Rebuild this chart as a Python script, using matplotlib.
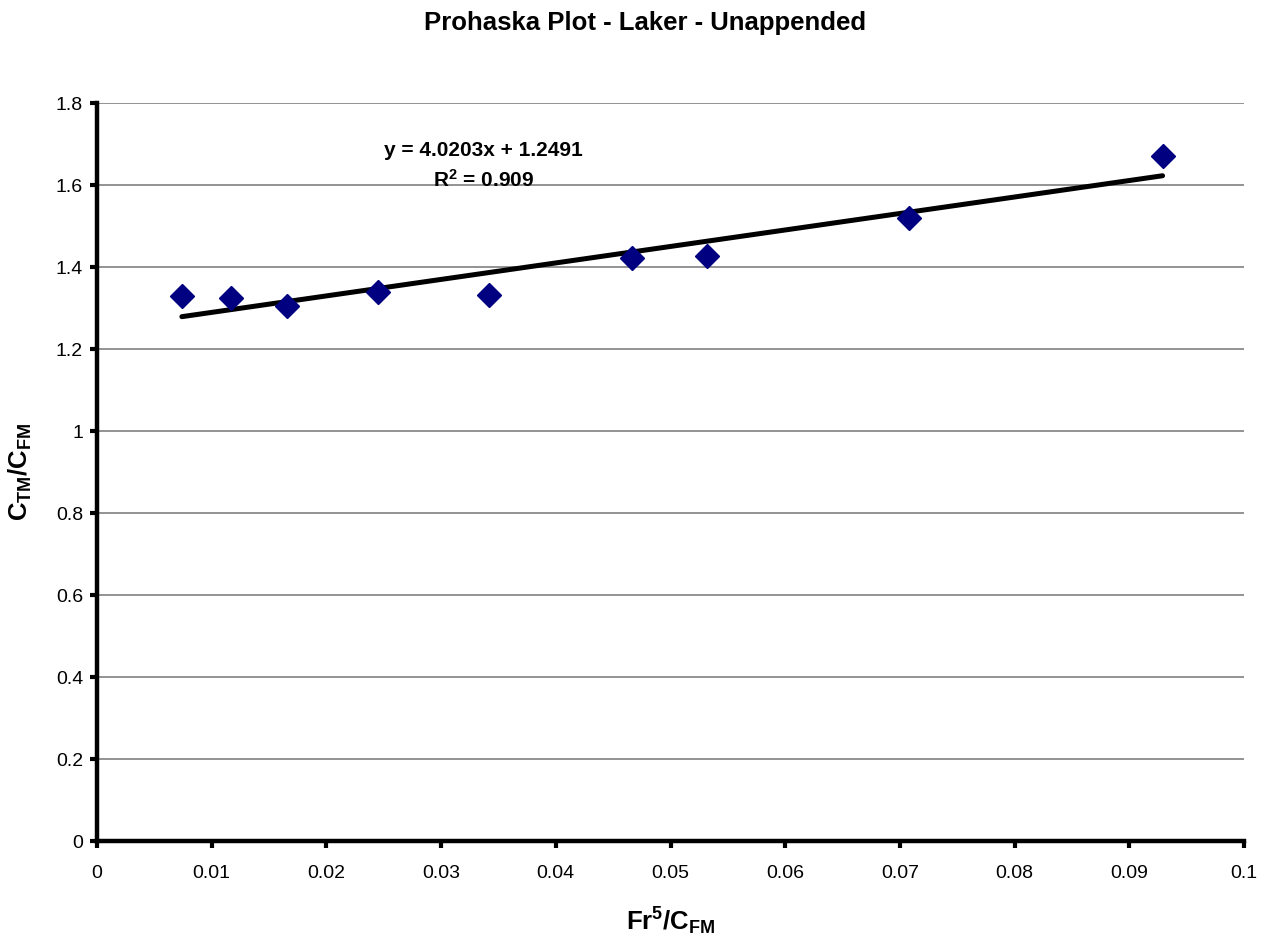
import matplotlib
matplotlib.use("Agg")
import matplotlib.pyplot as plt
import numpy as np

plt.rcParams['font.family'] = ['Liberation Sans', 'DejaVu Sans']
plt.rcParams['mathtext.fontset'] = 'custom'
plt.rcParams['mathtext.rm'] = 'Liberation Sans:bold'
plt.rcParams['mathtext.it'] = 'Liberation Sans:bold'
plt.rcParams['mathtext.bf'] = 'Liberation Sans:bold'

x_vals = [0.0074, 0.0117, 0.0166, 0.0245, 0.0342, 0.0466, 0.0532, 0.0708, 0.0929]
y_vals = [1.329, 1.324, 1.305, 1.339, 1.332, 1.422, 1.427, 1.520, 1.671]
slope = 4.0203
intercept = 1.2491
r_squared = 0.909
x_ticks = [0, 0.01, 0.02, 0.03, 0.04, 0.05, 0.06, 0.07, 0.08, 0.09, 0.1]
x_tick_labels = ['0', '0.01', '0.02', '0.03', '0.04', '0.05', '0.06', '0.07', '0.08', '0.09', '0.1']
y_ticks = [0, 0.2, 0.4, 0.6, 0.8, 1.0, 1.2, 1.4, 1.6, 1.8]
y_tick_labels = ['0', '0.2', '0.4', '0.6', '0.8', '1', '1.2', '1.4', '1.6', '1.8']

fig = plt.figure(figsize=(12.79, 9.38), dpi=100)
ax = fig.add_axes([97/1279, 97/938, (1244-97)/1279, (841-103)/938])

ax.set_xlim(0, 0.1)
ax.set_ylim(0, 1.8)

for yt in y_ticks[1:]:
    ax.axhline(yt, color='#808080', lw=1.2, zorder=1)

xs = np.array([min(x_vals), max(x_vals)])
ax.plot(xs, slope * xs + intercept, color='black', lw=3.6, solid_capstyle='round', zorder=2)
ax.plot(x_vals, y_vals, linestyle='none', marker='D', markersize=12,
        color='#000080', markeredgecolor='#000080', zorder=3)

ax.set_xticks(x_ticks)
ax.set_xticklabels(x_tick_labels, fontsize=14)
ax.set_yticks(y_ticks)
ax.set_yticklabels(y_tick_labels, fontsize=14)
ax.tick_params(axis='both', direction='out', length=5, width=3)
ax.tick_params(axis='x', pad=12)
ax.tick_params(axis='y', pad=5)

for side in ['top', 'right']:
    ax.spines[side].set_visible(False)
for side in ['left', 'bottom']:
    ax.spines[side].set_linewidth(3.2)
    ax.spines[side].set_zorder(4)

ax.text(0.0337, 1.685, f'y = {slope}x + {intercept}', ha='center', va='center',
        fontsize=15, fontweight='bold')
ax.text(0.0337, 1.612, r'R$^{2}$ = ' + f'{r_squared}', ha='center', va='center',
        fontsize=15, fontweight='bold')

ax.set_xlabel(r'$\mathbf{Fr^{5}/C_{FM}}$', fontsize=18.5, labelpad=17)
ax.set_ylabel(r'$\mathbf{C_{TM}/C_{FM}}$', fontsize=18.5, labelpad=16)

fig.suptitle('Prohaska Plot - Laker - Unappended', x=645/1279, y=1 - 11/938,
             va='top', fontsize=18.5, fontweight='bold')

fig.savefig('out.png', dpi=100)
